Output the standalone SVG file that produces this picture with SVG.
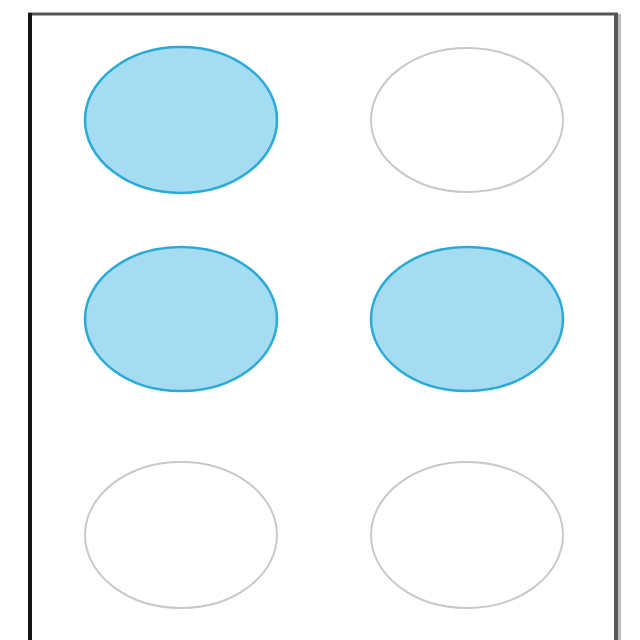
<svg xmlns="http://www.w3.org/2000/svg" width="640" height="640" viewBox="0 0 640 640">
<style>
.on{fill:#a6dcf1;stroke:#2aaad6;stroke-width:2.5}
.off{fill:#fff;stroke:#c9c9c9;stroke-width:2}
</style>
<rect width="640" height="640" fill="#fff"/>
<g id="frame">
<line x1="28" y1="14" x2="618" y2="14" stroke="#555" stroke-width="3"/>
<line x1="30" y1="13" x2="30" y2="640" stroke="#151515" stroke-width="4"/>
<line x1="616" y1="13" x2="616" y2="640" stroke="#555" stroke-width="4"/>
<line x1="619.5" y1="14" x2="619.5" y2="640" stroke="#bbb" stroke-width="3"/>
</g>
<g id="dot1"><ellipse class="on" cx="181" cy="120" rx="96" ry="73"/></g>
<g id="dot4"><ellipse class="off" cx="467" cy="120" rx="96" ry="72"/></g>
<g id="dot2"><ellipse class="on" cx="181" cy="319" rx="96" ry="72"/></g>
<g id="dot5"><ellipse class="on" cx="467" cy="319" rx="96" ry="72"/></g>
<g id="dot3"><ellipse class="off" cx="181" cy="535" rx="96" ry="73"/></g>
<g id="dot6"><ellipse class="off" cx="467" cy="535" rx="96" ry="73"/></g>
</svg>
